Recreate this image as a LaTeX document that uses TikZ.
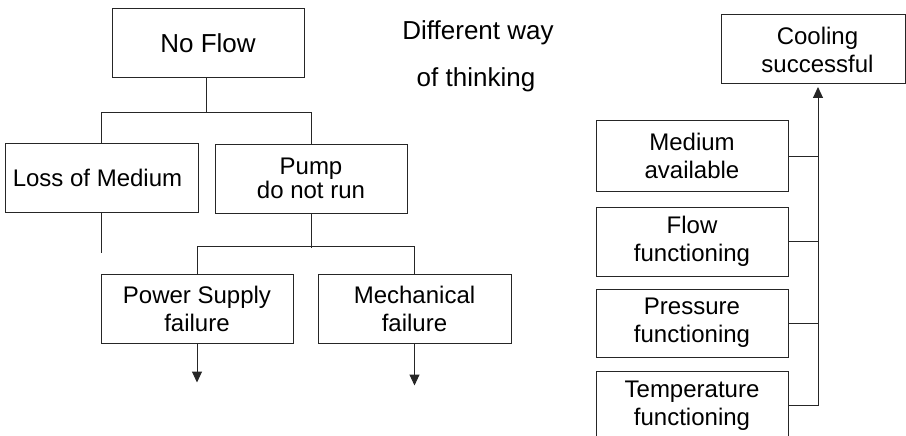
\documentclass[tikz,border=0pt]{standalone}
\usepackage{fontspec}
\setmainfont{Liberation Sans}
\usetikzlibrary{arrows.meta}
\begin{document}
\begin{tikzpicture}[x=1pt,y=-1pt,
  box/.style={draw=black!85,line width=1pt,rectangle,inner sep=0pt,
    minimum width=#1,minimum height=69pt,align=center,
    font=\fontsize{24}{28}\selectfont},
  box/.default=192pt,
  link/.style={draw=black!85,line width=1pt},
  arr/.style={link,-{Triangle[length=11pt,width=10pt]}},
  note/.style={anchor=base,font=\fontsize{26}{30}\selectfont}]
\useasboundingbox (0,0) rectangle (906,436);

% fault tree: causes of "No Flow"
\node[box,font=\fontsize{26}{30}\selectfont] (noflow) at (208,43.5) {No Flow};
\node[box=193pt] (loss) at (101.5,177.5) {Loss of Medium\hspace*{8pt}};
\node[box,font=\fontsize{24}{22}\selectfont] (pump) at (311,178.5) {Pump\\do not run};
\node[box] (power) at (197,308.5) {Power Supply\\failure};
\node[box=193pt] (mech) at (414.5,308.5) {Mechanical\\failure};

\draw[link] (noflow.south) ++(-2,0) -- ++(0,35);
\draw[link] (loss.north) -- ++(0,-30) -| (pump.north);
\draw[link] (loss.south) -- ++(0,40);
\draw[link] (pump.south) -- ++(0,34);
\draw[link] (power.north) -- ++(0,-27) -| (mech.north);
\draw[arr] (power.south) -- ++(0,39);
\draw[arr] (mech.south) -- ++(0,42);

% heading in the middle
\node[note] (head1) at (478,40) {Different way};
\node[note] (head2) at (476,87) {of thinking};

% success tree: conditions for "Cooling successful"
\node[box=184pt] (cooling) at (813,49.5) {\hspace*{9pt}Cooling\\\hspace*{9pt}successful};
\node[box,minimum height=70pt] (medium) at (692,156) {Medium\\available};
\node[box] (flowf) at (692,241.5) {Flow\\functioning};
\node[box,minimum height=68pt] (press) at (692,323) {Pressure\\functioning};
\node[box] (temp) at (692,405.5) {Temperature\\functioning};

\coordinate (bus) at (818,0);
\draw[arr,shorten >=2.5pt] (temp.east) -- (temp.east -| bus) -- (bus |- cooling.south);
\draw[link] (medium.east) -- (medium.east -| bus);
\draw[link] (flowf.east) -- (flowf.east -| bus);
\draw[link] (press.east) -- (press.east -| bus);
\end{tikzpicture}
\end{document}
